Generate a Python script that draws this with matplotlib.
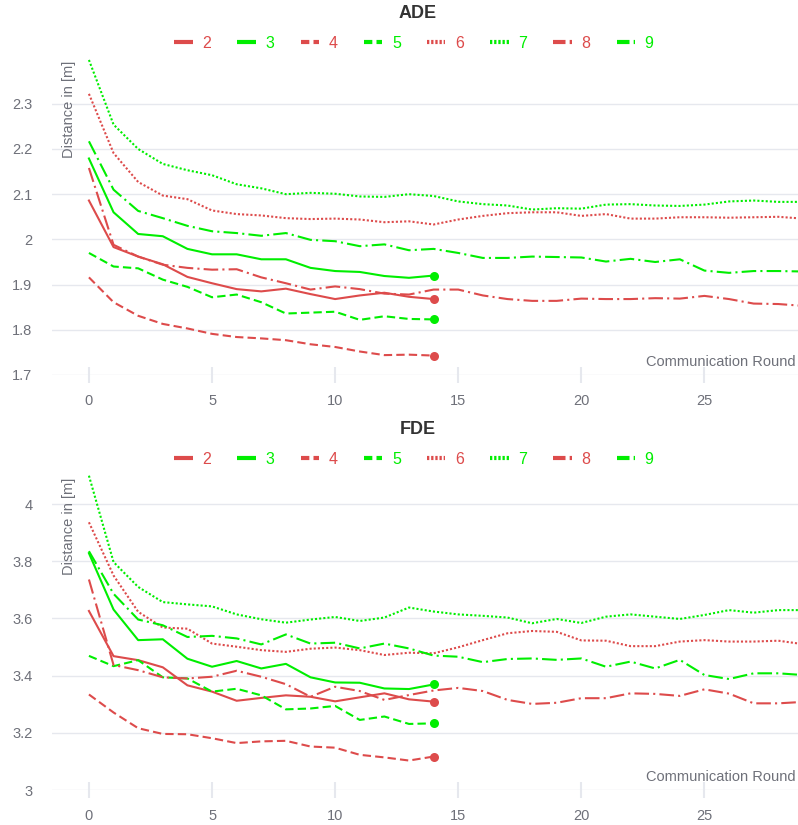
import matplotlib
matplotlib.use("Agg")
import matplotlib.pyplot as plt
from matplotlib.lines import Line2D
from matplotlib.ticker import FuncFormatter

plt.rcParams['font.family'] = ['Liberation Sans', 'DejaVu Sans']

# ---------------- data ----------------
rounds_short = list(range(15))
rounds_long = list(range(30))
series_names = ["2", "3", "4", "5", "6", "7", "8", "9"]

ade_2 = [2.086, 1.983, 1.962, 1.945, 1.917, 1.903, 1.890, 1.885, 1.891, 1.879, 1.868, 1.876, 1.882, 1.873, 1.868]
ade_3 = [2.179, 2.060, 2.012, 2.007, 1.979, 1.967, 1.967, 1.956, 1.956, 1.937, 1.930, 1.928, 1.919, 1.915, 1.920]
ade_4 = [1.916, 1.861, 1.831, 1.813, 1.803, 1.791, 1.784, 1.781, 1.777, 1.768, 1.762, 1.752, 1.744, 1.745, 1.743]
ade_5 = [1.970, 1.940, 1.936, 1.911, 1.895, 1.872, 1.878, 1.861, 1.836, 1.838, 1.840, 1.822, 1.830, 1.824, 1.823]
ade_6 = [2.322, 2.191, 2.127, 2.097, 2.089, 2.064, 2.056, 2.053, 2.047, 2.045, 2.046, 2.044, 2.038, 2.040, 2.033,
         2.044, 2.052, 2.058, 2.060, 2.060, 2.052, 2.056, 2.046, 2.046, 2.049, 2.049, 2.048, 2.049, 2.050, 2.046]
ade_7 = [2.397, 2.254, 2.200, 2.167, 2.153, 2.142, 2.122, 2.113, 2.100, 2.103, 2.101, 2.095, 2.094, 2.100, 2.096,
         2.084, 2.078, 2.075, 2.066, 2.069, 2.068, 2.077, 2.078, 2.075, 2.074, 2.077, 2.084, 2.086, 2.083, 2.083]
ade_8 = [2.158, 1.988, 1.962, 1.944, 1.937, 1.933, 1.934, 1.916, 1.903, 1.889, 1.896, 1.890, 1.880, 1.878, 1.889,
         1.889, 1.876, 1.868, 1.864, 1.864, 1.869, 1.868, 1.868, 1.870, 1.869, 1.875, 1.868, 1.858, 1.857, 1.853]
ade_9 = [2.217, 2.110, 2.063, 2.047, 2.030, 2.018, 2.014, 2.008, 2.014, 1.999, 1.996, 1.985, 1.989, 1.976, 1.979,
         1.970, 1.959, 1.959, 1.962, 1.961, 1.960, 1.951, 1.957, 1.950, 1.956, 1.931, 1.926, 1.930, 1.930, 1.929]

fde_2 = [3.626, 3.468, 3.454, 3.429, 3.366, 3.344, 3.312, 3.322, 3.331, 3.326, 3.310, 3.324, 3.338, 3.317, 3.309]
fde_3 = [3.828, 3.631, 3.524, 3.527, 3.459, 3.431, 3.451, 3.425, 3.441, 3.394, 3.376, 3.375, 3.355, 3.353, 3.369]
fde_4 = [3.334, 3.271, 3.216, 3.196, 3.195, 3.181, 3.164, 3.170, 3.172, 3.152, 3.148, 3.123, 3.114, 3.103, 3.117]
fde_5 = [3.469, 3.433, 3.454, 3.394, 3.390, 3.344, 3.354, 3.331, 3.282, 3.285, 3.294, 3.245, 3.257, 3.231, 3.233]
fde_6 = [3.936, 3.750, 3.623, 3.568, 3.564, 3.512, 3.501, 3.489, 3.483, 3.494, 3.498, 3.489, 3.472, 3.480, 3.478,
         3.499, 3.524, 3.548, 3.556, 3.553, 3.523, 3.522, 3.503, 3.503, 3.519, 3.524, 3.519, 3.519, 3.522, 3.510]
fde_7 = [4.099, 3.797, 3.710, 3.657, 3.649, 3.642, 3.614, 3.597, 3.585, 3.596, 3.605, 3.591, 3.603, 3.638, 3.624,
         3.614, 3.609, 3.603, 3.583, 3.598, 3.584, 3.606, 3.614, 3.606, 3.598, 3.612, 3.629, 3.620, 3.629, 3.629]
fde_8 = [3.736, 3.437, 3.419, 3.394, 3.390, 3.396, 3.417, 3.396, 3.370, 3.326, 3.361, 3.346, 3.315, 3.332, 3.348,
         3.357, 3.346, 3.315, 3.301, 3.305, 3.321, 3.321, 3.338, 3.336, 3.329, 3.352, 3.337, 3.303, 3.303, 3.308]
fde_9 = [3.835, 3.686, 3.596, 3.576, 3.535, 3.539, 3.530, 3.509, 3.544, 3.512, 3.515, 3.495, 3.512, 3.495, 3.470,
         3.466, 3.447, 3.458, 3.460, 3.455, 3.460, 3.431, 3.449, 3.425, 3.455, 3.402, 3.388, 3.408, 3.408, 3.402]

ade_ticks = [1.7, 1.8, 1.9, 2.0, 2.1, 2.2, 2.3]
fde_ticks = [3.0, 3.2, 3.4, 3.6, 3.8, 4.0]
x_ticks = [0, 5, 10, 15, 20, 25]

# ---------------- styles ----------------
RED = "#dd4b4b"
GREEN = "#00ee00"
TXT = "#6e7079"
GRID = "#e6e8ee"

colors = [RED, GREEN, RED, GREEN, RED, GREEN, RED, GREEN]
line_ls = ["-", "-", (0, (4, 2)), (0, (4, 2)), (0, (1, 1)), (0, (1, 1)), (0, (7, 2, 1, 2)), (0, (7, 2, 1, 2))]
leg_ls = ["-", "-", (0, (2, 1)), (0, (2, 1)), (0, (0.55, 0.45)), (0, (0.55, 0.45)), (0, (3, 1, 1, 1)), (0, (3, 1, 1, 1))]

ade_data = [ade_2, ade_3, ade_4, ade_5, ade_6, ade_7, ade_8, ade_9]
fde_data = [fde_2, fde_3, fde_4, fde_5, fde_6, fde_7, fde_8, fde_9]

W, H = 798, 825
fig = plt.figure(figsize=(W / 100, H / 100), dpi=100)


def fx(px):
    return px / W


def fy(py):
    return 1 - py / H


def make_panel(rect, data, ticks, ylim, title, title_y, legend_y):
    ax = fig.add_axes(rect)
    for i, ys in enumerate(data):
        xs = rounds_short if len(ys) == len(rounds_short) else rounds_long
        short = len(ys) == len(rounds_short)
        ax.plot(xs, ys, color=colors[i], lw=1.5, linestyle=line_ls[i],
                marker="o" if short else None, markevery=[len(ys) - 1] if short else None,
                markersize=6.5, markeredgewidth=0, clip_on=True, zorder=3)
    ax.set_xlim(-1.5, 28.8)
    ax.set_ylim(*ylim)
    ax.set_yticks(ticks)
    ax.set_xticks(x_ticks)
    ax.yaxis.set_major_formatter(FuncFormatter(lambda v, p: f"{v:g}"))
    for s in ax.spines.values():
        s.set_visible(False)
    ax.grid(axis="y", color=GRID, lw=1.0)
    ax.set_axisbelow(True)
    ax.tick_params(axis="y", length=0, pad=14, labelsize=10.5, labelcolor=TXT)
    ax.tick_params(axis="x", direction="inout", length=12, width=1.5, color=GRID,
                   pad=8, labelsize=10.5, labelcolor=TXT)
    ax.text(17 / 746, 1 - 2 / 317, "Distance in [m]", rotation=90, ha="center", va="top",
            transform=ax.transAxes, color=TXT, fontsize=10.5)
    ax.text(0.997, 13 / 317, "Communication Round", ha="right", va="center",
            transform=ax.transAxes, color=TXT, fontsize=10.5)
    fig.text(fx(418), fy(title_y), title, ha="center", va="center", fontsize=13,
             fontweight="bold", color="#333333")
    handles = [Line2D([0], [0], color=colors[i], lw=3, linestyle=leg_ls[i], solid_capstyle="butt",
                      dash_capstyle="butt") for i in range(8)]
    leg = fig.legend(handles, series_names, loc="center", bbox_to_anchor=(fx(414), fy(legend_y)),
                     ncol=8, frameon=False, fontsize=11.5, handlelength=1.15, handletextpad=0.6,
                     columnspacing=1.65, borderpad=0)
    for t, c in zip(leg.get_texts(), colors):
        t.set_color(c)
    return ax


ax1 = make_panel([fx(52), fy(375), fx(746), (375 - 58.6) / H], ade_data, ade_ticks, (1.7, 2.4),
                 "ADE", 13, 43)
ax2 = make_panel([fx(52), fy(790), fx(746), (790 - 475.4) / H], fde_data, fde_ticks, (3.0, 4.1),
                 "FDE", 430, 459)

fig.savefig("out.png", dpi=100)
